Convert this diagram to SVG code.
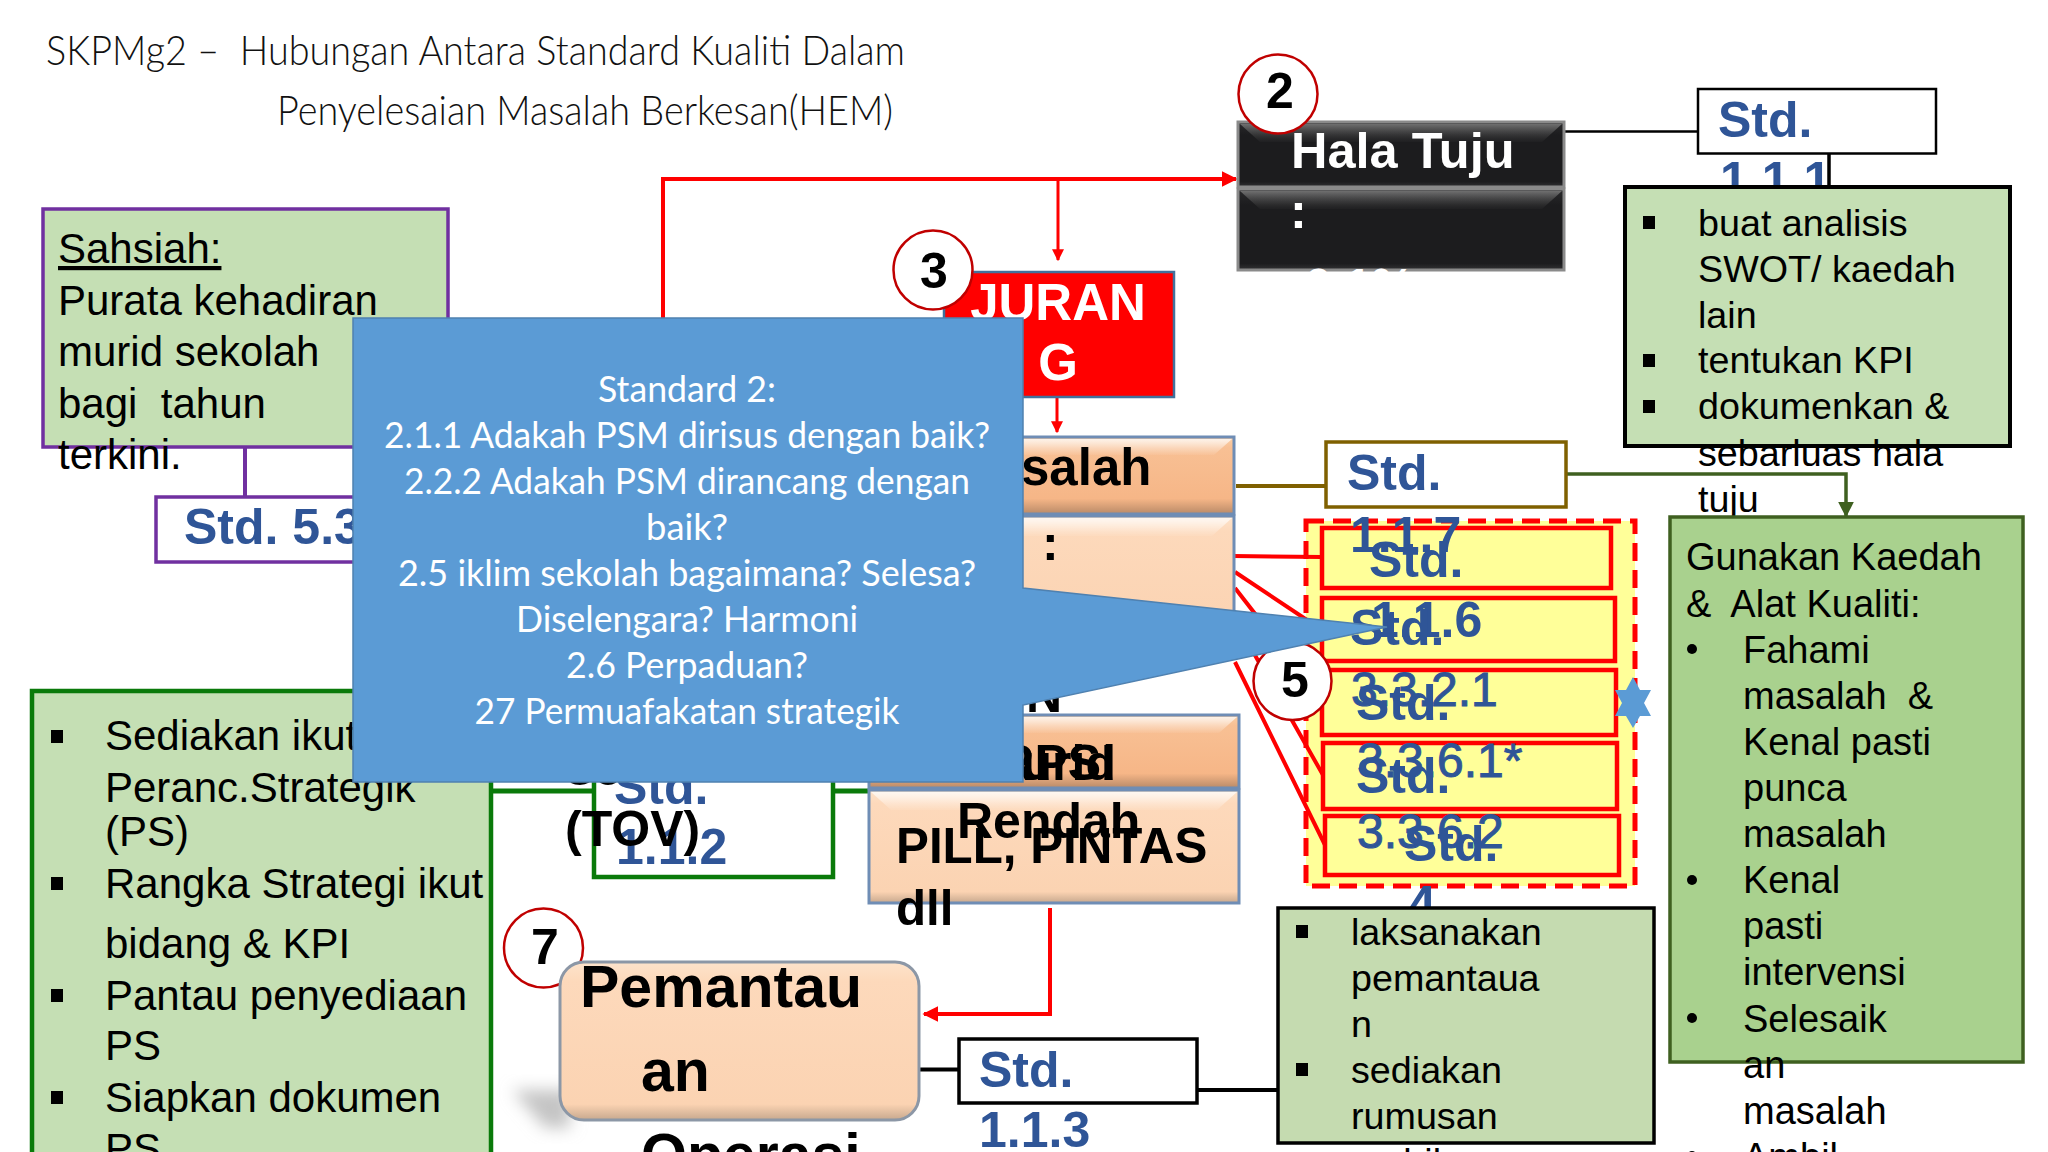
<svg xmlns="http://www.w3.org/2000/svg" width="2048" height="1152" viewBox="0 0 2048 1152">
<defs>
<linearGradient id="gOr" x1="0" y1="0" x2="0" y2="1"><stop offset="0" stop-color="#f9cfa8"/><stop offset=".14" stop-color="#f8c094"/><stop offset=".8" stop-color="#f6b687"/><stop offset="1" stop-color="#b98a68"/></linearGradient>
<linearGradient id="gPe" x1="0" y1="0" x2="0" y2="1"><stop offset="0" stop-color="#fde3cb"/><stop offset=".12" stop-color="#fdd9bb"/><stop offset=".9" stop-color="#fbd3b2"/><stop offset="1" stop-color="#c7a88e"/></linearGradient>
<linearGradient id="gBk" x1="0" y1="0" x2="0" y2="1"><stop offset="0" stop-color="#2a2a2c"/><stop offset=".2" stop-color="#1c1c1e"/><stop offset=".92" stop-color="#1c1c1e"/><stop offset="1" stop-color="#333335"/></linearGradient>
<linearGradient id="gBev" x1="0" y1="0" x2="0" y2="1"><stop offset="0" stop-color="#fff" stop-opacity=".75"/><stop offset="1" stop-color="#fff" stop-opacity=".05"/></linearGradient>
<linearGradient id="gBevK" x1="0" y1="0" x2="0" y2="1"><stop offset="0" stop-color="#777" stop-opacity=".9"/><stop offset="1" stop-color="#444" stop-opacity=".1"/></linearGradient>
<filter id="blur" x="-40%" y="-40%" width="180%" height="180%"><feGaussianBlur stdDeviation="8"/></filter>
<marker id="arR" viewBox="0 0 10 10" refX="9" refY="5" markerWidth="4" markerHeight="4" orient="auto" markerUnits="strokeWidth"><path d="M0 0L10 5L0 10Z" fill="#f00"/></marker>
<marker id="arG" viewBox="0 0 10 10" refX="9" refY="5" markerWidth="4.5" markerHeight="4.5" orient="auto" markerUnits="strokeWidth"><path d="M0 0L10 5L0 10Z" fill="#3f6020"/></marker>
</defs>
<style>
text{font-family:"Liberation Sans",Arial,sans-serif}
.t{font-size:42px;fill:#000}
.s{font-size:37.7px;fill:#000}
.r{font-size:38px;fill:#000}
.b{font-size:50px;font-weight:700;fill:#2f5597}
.n{font-size:48px;fill:#2f5597;stroke:#2f5597;stroke-width:1}
.k{font-size:50px;font-weight:700;fill:#000}
.num{font-size:50px;font-weight:700;fill:#000;text-anchor:middle}
.w{font-size:50.500px;font-weight:700;fill:#fff}
.title{font-family:Lato,"Open Sans",sans-serif;font-weight:300;font-size:42px;fill:#111}
.cal{font-family:Lato,"Open Sans",sans-serif;font-size:36px;fill:#fff;text-anchor:middle}
.circ{fill:#fff;stroke:#c00000;stroke-width:2.5}
.gb{fill:#c5dfb4}
.y{fill:#ffff99;stroke:#f00;stroke-width:4.5}
.lr{fill:none;stroke:#f00;stroke-width:4}
.or{fill:url(#gOr);stroke:#6f8db5;stroke-width:3}
.pe{fill:url(#gPe);stroke:#6f8db5;stroke-width:3}
.bk{fill:url(#gBk);stroke:#8a8a8a;stroke-width:3}
.bev{fill:url(#gBev)}
.bevk{fill:url(#gBevK)}
.sq{fill:#000}
</style>
<rect width="2048" height="1152" fill="#fff"/>
<g id="title">
<text class="title" x="46" y="65" textLength="859" lengthAdjust="spacingAndGlyphs" xml:space="preserve">SKPMg2 –  Hubungan Antara Standard Kualiti Dalam</text>
<text class="title" x="277" y="125" textLength="616" lengthAdjust="spacingAndGlyphs">Penyelesaian Masalah Berkesan(HEM)</text>
</g>
<g id="node-peta-yellow"><rect x="1306" y="521" width="329" height="365" fill="#ffff99" stroke="#f00" stroke-width="5" stroke-dasharray="18 9"/></g>
<g id="connectors">
<path class="lr" d="M663 330V179H1236" marker-end="url(#arR)"/>
<path class="lr" d="M1058 179V260" marker-end="url(#arR)" style="stroke-width:3"/>
<path class="lr" d="M1057 397V432" marker-end="url(#arR)" style="stroke-width:3"/>
<path d="M245 447V496" fill="none" stroke="#7030a0" stroke-width="4"/>
<path d="M1564 131.500H1700" fill="none" stroke="#000" stroke-width="2.500"/>
<path d="M1829 146V186" fill="none" stroke="#000" stroke-width="3.500"/>
<path d="M1236 486H1326" fill="none" stroke="#7f6000" stroke-width="4"/>
<path d="M1566 474H1846V516" fill="none" stroke="#3f6020" stroke-width="3.500" marker-end="url(#arG)"/>
<path d="M491 791H594M833 791H869" fill="none" stroke="#0a7a0a" stroke-width="5"/>
<path class="lr" d="M1050 908V1014H924" marker-end="url(#arR)"/>
<path d="M909 1069.500H958M1197 1090H1278" fill="none" stroke="#000" stroke-width="4"/>
<path class="lr" d="M1233 556L1322 557M1235 572L1322 630M1235 588L1322 700M1235 620L1323 775M1235 662L1325 845"/>
</g>
<g id="node-sahsiah">
<rect x="43" y="209" width="405" height="238" class="gb" stroke="#7030a0" stroke-width="3.500"/>
<text class="t" x="58" y="263" text-decoration="underline">Sahsiah:</text>
<text class="t" x="58" y="315">Purata kehadiran</text>
<text class="t" x="58" y="366">murid sekolah</text>
<text class="t" x="58" y="418" xml:space="preserve">bagi  tahun</text>
<text class="t" x="58" y="469">terkini.</text>
</g>
<g id="node-std53">
<rect x="156" y="497" width="300" height="65" fill="#fff" stroke="#7030a0" stroke-width="3.500"/>
<text class="b" x="184" y="544">Std. 5.3</text>
</g>
<g id="node-list-left">
<rect x="32" y="691" width="459" height="480" class="gb" stroke="#0a7a0a" stroke-width="4.500"/>
<rect class="sq" x="51" y="730" width="12" height="13"/>
<rect class="sq" x="51" y="877" width="12" height="13"/>
<rect class="sq" x="51" y="989" width="12" height="13"/>
<rect class="sq" x="51" y="1091" width="12" height="13"/>
<text class="t" x="105" y="750">Sediakan ikut</text>
<text class="t" x="105" y="802">Peranc.Strategik</text>
<text class="t" x="105" y="846">(PS)</text>
<text class="t" x="105" y="898">Rangka Strategi ikut</text>
<text class="t" x="105" y="958">bidang &amp; KPI</text>
<text class="t" x="105" y="1010">Pantau penyediaan</text>
<text class="t" x="105" y="1060">PS</text>
<text class="t" x="105" y="1112">Siapkan dokumen</text>
<text class="t" x="105" y="1163">PS</text>
</g>
<g id="node-std112">
<rect x="594" y="700" width="239" height="177" fill="#fff" stroke="#0a7a0a" stroke-width="4.500"/>
<text class="b" x="614" y="804">Std.</text>
<text class="b" x="616" y="864">1.1.2</text>
<text class="k" x="566" y="785">se</text>
<text class="k" x="565" y="846">(TOV)</text>
</g>
<g id="node-hala-tuju">
<rect x="1238" y="122" width="326" height="65" class="bk"/>
<polygon points="1240,124 1562,124 1542,142 1260,142" class="bevk"/>
<rect x="1238" y="189" width="326" height="81" class="bk"/>
<polygon points="1240,191 1562,191 1542,209 1260,209" class="bevk"/>
<text class="w" x="1291" y="168">Hala Tuju</text>
<text class="w" x="1290" y="228">:</text>
<text class="w" x="1305" y="302" style="font-size:48px">0.1%</text>
</g>
<g id="node-2"><circle cx="1278" cy="94" r="39.500" class="circ"/><text class="num" x="1280" y="108">2</text></g>
<g id="node-std111">
<rect x="1698" y="89" width="238" height="64.500" fill="#fff" stroke="#000" stroke-width="2.500"/>
<text class="b" x="1718" y="137">Std.</text>
<text class="b" x="1720" y="197">1.1.1</text>
</g>
<g id="node-list-swot">
<rect x="1625" y="187" width="385" height="259" class="gb" stroke="#000" stroke-width="4"/>
<rect class="sq" x="1643" y="216" width="12" height="13"/>
<rect class="sq" x="1643" y="354" width="12" height="13"/>
<rect class="sq" x="1643" y="400" width="12" height="13"/>
<text class="s" x="1698" y="236">buat analisis</text>
<text class="s" x="1698" y="282">SWOT/ kaedah</text>
<text class="s" x="1698" y="328">lain</text>
<text class="s" x="1698" y="373">tentukan KPI</text>
<text class="s" x="1698" y="419">dokumenkan &amp;</text>
<text class="s" x="1698" y="466">sebarluas hala</text>
<text class="s" x="1698" y="512">tuju</text>
</g>
<g id="node-pengukuran">
<rect x="944" y="272" width="230" height="125" fill="#f00" stroke="#41719c" stroke-width="2.500"/>
<text x="1058" y="320" text-anchor="middle" style="font-size:51px;font-weight:700;fill:#fff">JURAN</text>
<text x="1058" y="380" text-anchor="middle" style="font-size:51px;font-weight:700;fill:#fff">G</text>
</g>
<g id="node-3"><circle cx="933" cy="270" r="39.500" class="circ"/><text class="num" x="934" y="288">3</text></g>
<g id="node-masalah">
<rect x="860" y="437" width="374" height="77" class="or"/>
<polygon points="862,439 1232,439 1214,455 880,455" class="bev"/>
<rect x="860" y="516" width="374" height="124" class="pe"/>
<polygon points="862,518 1232,518 1212,536 882,536" class="bev"/>
<text x="1021" y="485" style="font-size:51px;font-weight:700">salah</text>
<text class="k" x="1042" y="560">:</text>
<text class="k" x="1026" y="712">N</text>
</g>
<g id="node-rps">
<rect x="869" y="715" width="370" height="73" class="or"/>
<polygon points="871,717 1237,717 1219,733 889,733" class="bev"/>
<rect x="869" y="790" width="370" height="113" class="pe"/>
<polygon points="871,792 1237,792 1217,810 891,810" class="bev"/>
<text class="k" x="1115" y="780" text-anchor="end">RPSI</text>
<text class="k" x="1116" y="780" text-anchor="end">urid</text>
<text class="k" x="957" y="838">Rendah</text>
<text x="896" y="863" style="font-size:49.300px;font-weight:700">PILL, PINTAS</text>
<text x="896" y="925" style="font-size:49.300px;font-weight:700">dll</text>
</g>
<g id="node-std117">
<rect x="1326" y="442" width="240" height="65" fill="#fff" stroke="#7f6000" stroke-width="3.500"/>
<text class="b" x="1347" y="490">Std.</text>
</g>
<g id="node-std-list">
<text class="b" x="1408" y="921">4</text>
<rect x="1322" y="528" width="289" height="60" class="y"/>
<rect x="1322" y="598" width="293" height="63" class="y"/>
<rect x="1322" y="670" width="294" height="65" class="y"/>
<rect x="1323" y="743" width="294" height="66" class="y"/>
<rect x="1325" y="816" width="294" height="59" class="y"/>
<text class="b" x="1350" y="552">1.1.7</text>
<text class="b" x="1369" y="577">Std.</text>
<text class="b" x="1371" y="637">1.1.6</text>
<text class="b" x="1350" y="645">Std.</text>
<text class="n" x="1351" y="706">3.3.2.1</text>
<text class="b" x="1356" y="720">Std.</text>
<text class="n" x="1357" y="777">3.3.6.1*</text>
<text class="b" x="1356" y="793">Std.</text>
<text class="n" x="1357" y="848">3.3.6.2</text>
<text class="b" x="1404" y="861">Std.</text>
<polygon points="1633,677 1640,690 1651,690 1644,703 1651,716 1640,716 1633,728 1626,716 1615,716 1622,703 1615,690 1626,690" fill="#5b9bd5"/>
</g>
<g id="node-5"><circle cx="1292.500" cy="681" r="39" class="circ"/><text class="num" x="1295" y="697">5</text></g>
<g id="node-gunakan">
<rect x="1670" y="517" width="353" height="545" fill="#a9d18e" stroke="#3f6020" stroke-width="3.500"/>
<circle cx="1692" cy="649" r="5"/><circle cx="1692" cy="880" r="5"/><circle cx="1692" cy="1018" r="5"/><circle cx="1692" cy="1156" r="5"/>
<text class="r" x="1686" y="570">Gunakan Kaedah</text>
<text class="r" x="1686" y="617" xml:space="preserve">&amp;  Alat Kualiti:</text>
<text class="r" x="1743" y="663">Fahami</text>
<text class="r" x="1743" y="709" xml:space="preserve">masalah  &amp;</text>
<text class="r" x="1743" y="755">Kenal pasti</text>
<text class="r" x="1743" y="801">punca</text>
<text class="r" x="1743" y="847">masalah</text>
<text class="r" x="1743" y="893">Kenal</text>
<text class="r" x="1743" y="939">pasti</text>
<text class="r" x="1743" y="985">intervensi</text>
<text class="r" x="1743" y="1032">Selesaik</text>
<text class="r" x="1743" y="1078">an</text>
<text class="r" x="1743" y="1124">masalah</text>
<text class="r" x="1743" y="1170">Ambil</text>
</g>
<g id="node-laksanakan">
<rect x="1278" y="908" width="376" height="235" fill="#c5dbb0" stroke="#000" stroke-width="3.500"/>
<rect class="sq" x="1296" y="925" width="12" height="13"/>
<rect class="sq" x="1296" y="1063" width="12" height="13"/>
<text class="s" x="1351" y="945">laksanakan</text>
<text class="s" x="1351" y="991">pemantaua</text>
<text class="s" x="1351" y="1037">n</text>
<text class="s" x="1351" y="1083">sediakan</text>
<text class="s" x="1351" y="1129">rumusan</text>
<text class="s" x="1351" y="1175">ambil</text>
</g>
<g id="node-7"><circle cx="543.500" cy="948" r="39.500" class="circ"/><text class="num" x="545" y="964">7</text></g>
<g id="node-pemantauan">
<path d="M512 1090H570V1128H545Z" fill="#c4c4c4" filter="url(#blur)"/>
<rect x="560" y="962" width="359" height="158" rx="24" class="pe" style="stroke:#8c97a6"/>
<text x="580" y="1007" style="font-size:59px;font-weight:700">Pemantau</text>
<text x="641" y="1091" style="font-size:59px;font-weight:700">an</text>
<text x="641" y="1175" style="font-size:59px;font-weight:700">Operasi</text>
</g>
<g id="node-std113">
<rect x="959" y="1039" width="238" height="64" fill="#fff" stroke="#000" stroke-width="3.500"/>
<text class="b" x="979" y="1087">Std.</text>
<text class="b" x="979" y="1147">1.1.3</text>
</g>
<g id="node-callout">
<path d="M353 318H1023V588L1387 627L1023 705V782H353Z" fill="#5b9bd5" stroke="#4f81b0" stroke-width="1.500"/>
<text class="cal" x="687" y="402" textLength="178" lengthAdjust="spacingAndGlyphs">Standard 2:</text>
<text class="cal" x="687" y="448" textLength="606" lengthAdjust="spacingAndGlyphs">2.1.1 Adakah PSM dirisus dengan baik?</text>
<text class="cal" x="687" y="494" textLength="566" lengthAdjust="spacingAndGlyphs">2.2.2 Adakah PSM dirancang dengan</text>
<text class="cal" x="687" y="540" textLength="82" lengthAdjust="spacingAndGlyphs">baik?</text>
<text class="cal" x="687" y="586" textLength="578" lengthAdjust="spacingAndGlyphs">2.5 iklim sekolah bagaimana? Selesa?</text>
<text class="cal" x="687" y="632" textLength="342" lengthAdjust="spacingAndGlyphs">Diselengara? Harmoni</text>
<text class="cal" x="687" y="678" textLength="242" lengthAdjust="spacingAndGlyphs">2.6 Perpaduan?</text>
<text class="cal" x="687" y="724" textLength="425" lengthAdjust="spacingAndGlyphs">27 Permuafakatan strategik</text>
</g>
</svg>
